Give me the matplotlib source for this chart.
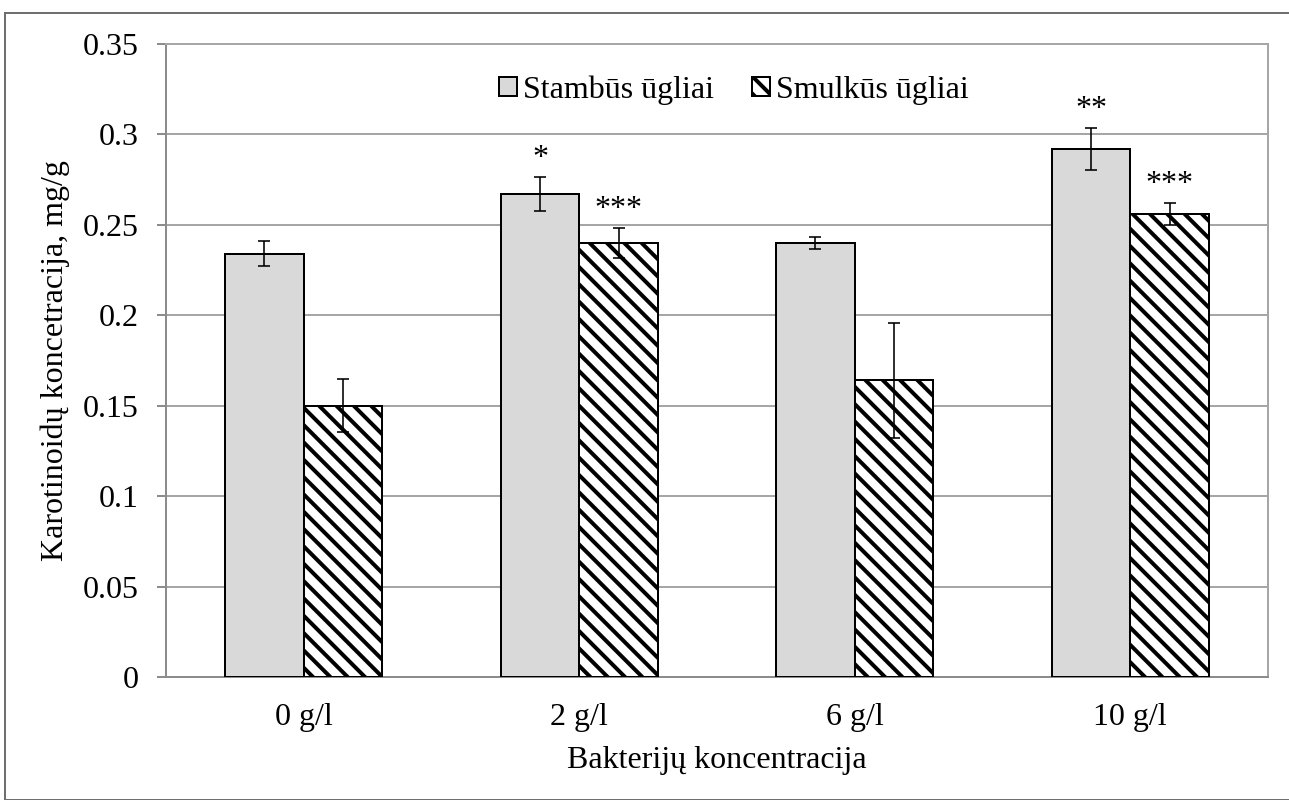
import numpy as np
import matplotlib.pyplot as plt
from matplotlib.patches import Rectangle

# --- Données ---------------------------------------------------------
kategorijos = ['0 g/l', '2 g/l', '6 g/l', '10 g/l']
stambus = [0.234, 0.267, 0.240, 0.292]
stambus_err = [0.007, 0.0095, 0.0035, 0.0118]
smulkus = [0.150, 0.240, 0.164, 0.256]
smulkus_err = [0.0145, 0.0085, 0.032, 0.006]
zvaigzdes_stambus = ['', '*', '', '**']
zvaigzdes_smulkus = ['', '***', '', '***']
yticks = [0, 0.05, 0.1, 0.15, 0.2, 0.25, 0.3, 0.35]
ytick_labels = ['0', '0.05', '0.1', '0.15', '0.2', '0.25', '0.3', '0.35']

# --- Mise en page ----------------------------------------------------
# dpi bas : le motif de hachures suit le dpi, on le resserre ainsi
DPI = 52
W, H = 1289, 800


def px(v):
    # pixels -> points
    return v * 72.0 / DPI


plt.rcParams['font.family'] = ['Liberation Serif', 'DejaVu Serif']
plt.rcParams['hatch.linewidth'] = px(4.0)
plt.rcParams['hatch.color'] = 'black'

fs = px(32)
grid_col = '#a6a6a6'

fig = plt.figure(figsize=(W / DPI, H / DPI), dpi=DPI)
fig.patches.append(Rectangle((5 / W, 0), 2, 1 - 13 / H, transform=fig.transFigure,
                             fill=False, edgecolor='#6f6f6f', lw=px(2)))

ax = fig.add_axes([166 / W, (H - 677) / H, (1268 - 166) / W, (677 - 44) / H])

x = np.arange(len(kategorijos))
bw = 0.285

ax.bar(x - bw / 2, stambus, bw, color='#d9d9d9', edgecolor='black', lw=px(2),
       label='Stambūs ūgliai', zorder=3)
ax.bar(x + bw / 2, smulkus, bw, color='white', edgecolor='black', lw=px(2),
       hatch='\\', label='Smulkūs ūgliai', zorder=3)
ax.errorbar(x - bw / 2, stambus, yerr=stambus_err, fmt='none', ecolor='black',
            elinewidth=px(1.6), capsize=px(6), capthick=px(1.6), zorder=4)
ax.errorbar(x + bw / 2, smulkus, yerr=smulkus_err, fmt='none', ecolor='black',
            elinewidth=px(1.6), capsize=px(6), capthick=px(1.6), zorder=4)

for i in range(len(x)):
    if zvaigzdes_stambus[i]:
        ax.annotate(zvaigzdes_stambus[i], (x[i] - bw / 2, stambus[i] + stambus_err[i]),
                    xytext=(0, px(4)), textcoords='offset points',
                    ha='center', va='bottom', fontsize=fs)
    if zvaigzdes_smulkus[i]:
        ax.annotate(zvaigzdes_smulkus[i], (x[i] + bw / 2, smulkus[i] + smulkus_err[i]),
                    xytext=(0, px(4)), textcoords='offset points',
                    ha='center', va='bottom', fontsize=fs)

ax.set_xlim(-0.5, len(x) - 0.5)
ax.set_ylim(0, 0.35)
ax.set_yticks(yticks)
ax.set_yticklabels(ytick_labels)
ax.set_xticks(x)
ax.set_xticklabels(kategorijos)
ax.yaxis.grid(True, color=grid_col, lw=px(2), zorder=0)
ax.set_axisbelow(True)

for s in ax.spines.values():
    s.set_color(grid_col)
    s.set_linewidth(px(2))
ax.spines['left'].set_color('#8c8c8c')
ax.spines['bottom'].set_color('#8c8c8c')

ax.tick_params(axis='y', length=px(9), width=px(2), color='#8c8c8c',
               labelsize=fs, pad=px(18))
ax.tick_params(axis='x', length=0, labelsize=fs, pad=px(26))

ax.set_xlabel('Bakterijų koncentracija', fontsize=fs, labelpad=px(14))
ax.set_ylabel('Karotinoidų koncetracija, mg/g', fontsize=fs, labelpad=px(13))

ax.legend(loc='center', bbox_to_anchor=(734 / W, 1 - 90 / H),
          bbox_transform=fig.transFigure, ncol=2, frameon=False, fontsize=fs,
          handlelength=0.55, handleheight=0.55, handletextpad=0.2,
          columnspacing=1.2, borderaxespad=0)

fig.savefig('out.png', dpi=DPI)
